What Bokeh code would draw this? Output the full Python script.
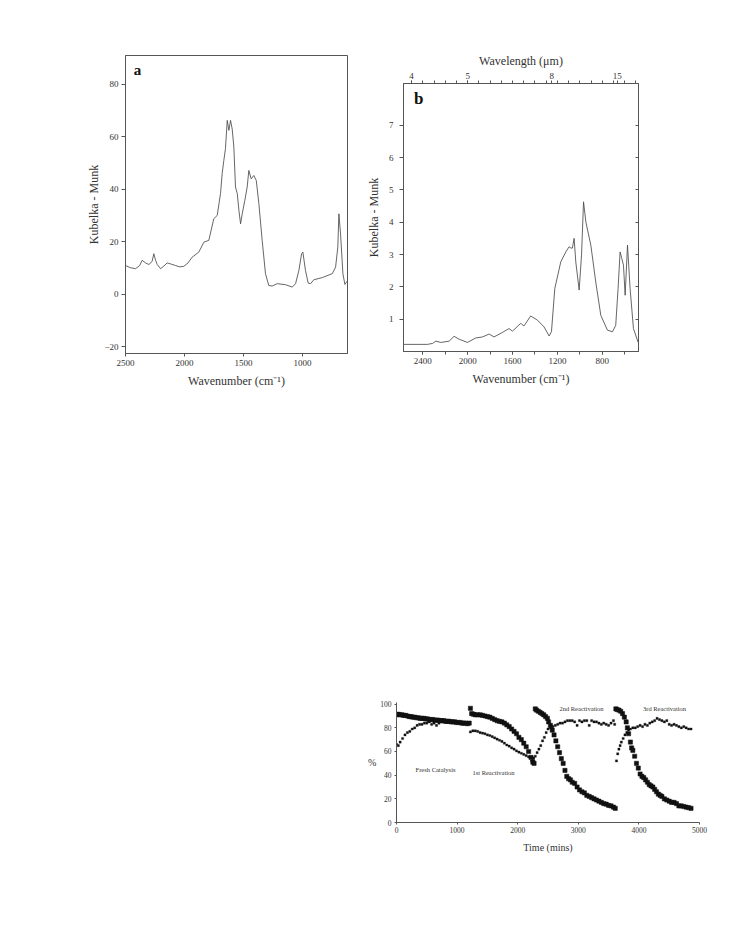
from bokeh.plotting import figure
from bokeh.models import LinearAxis, FixedTicker, CustomJSTickFormatter, Range1d, Label
from bokeh.layouts import row, column
from bokeh.embed import file_html
from bokeh.resources import INLINE

# ---------------- data ----------------
# Panel a: DRIFTS spectrum
a_wavenumber = [2500, 2460, 2415, 2380, 2359, 2330, 2302, 2275, 2260, 2245,
                2231, 2203, 2175, 2147, 2110, 2076, 2040, 2006, 1970, 1935,
                1879, 1836, 1794, 1752, 1723, 1695, 1681, 1667, 1653, 1638,
                1624, 1610, 1596, 1582, 1568, 1553, 1539, 1525, 1511, 1489,
                1469, 1455, 1435, 1413, 1392, 1370, 1342, 1314, 1286, 1257,
                1214, 1144, 1087, 1059, 1031, 1008, 997, 975, 952, 932,
                904, 833, 748, 720, 701, 692, 678, 658, 641, 621]
a_km = [11.0, 10.2, 9.8, 11.0, 13.0, 12.0, 11.4, 12.5, 15.5, 13.0,
        11.4, 9.8, 10.8, 12.0, 11.5, 11.0, 10.5, 10.7, 12.0, 14.2,
        16.1, 19.9, 20.6, 28.8, 30.1, 38.4, 46.0, 51.0, 55.5, 66.3,
        62.5, 66.3, 63.0, 56.1, 40.9, 38.4, 32.0, 26.9, 30.7, 35.8,
        40.9, 47.2, 44.0, 45.3, 43.4, 34.6, 20.6, 7.9, 3.4, 3.2,
        4.1, 3.7, 2.8, 4.1, 9.1, 15.5, 16.1, 9.1, 4.3, 4.1,
        5.6, 6.4, 7.9, 10.4, 18.0, 30.7, 23.1, 7.9, 3.8, 5.1]

# Panel b: DRIFTS spectrum
b_wavenumber = [2570, 2358, 2313, 2284, 2239, 2165, 2121, 2076, 2002, 1928,
                1868, 1809, 1765, 1690, 1631, 1601, 1527, 1498, 1438, 1378,
                1319, 1274, 1253, 1223, 1170, 1125, 1096, 1080, 1066, 1051,
                1036, 1006, 985, 967, 946, 902, 858, 813, 754, 709,
                680, 659, 641, 626, 611, 596, 575, 552, 522, 480]
b_km = [0.22, 0.22, 0.25, 0.32, 0.28, 0.32, 0.47, 0.38, 0.28, 0.42,
        0.45, 0.54, 0.45, 0.59, 0.71, 0.63, 0.87, 0.79, 1.10, 0.97,
        0.76, 0.48, 0.61, 1.95, 2.77, 3.08, 3.24, 3.20, 3.20, 3.50,
        2.77, 1.90, 2.98, 4.63, 4.00, 3.29, 2.15, 1.12, 0.66, 0.61,
        0.81, 1.95, 3.08, 2.88, 2.67, 1.74, 3.29, 1.95, 0.71, 0.28]
wavelength_ticks = [4, 5, 8, 15]

# Panel c: catalyst runs (big squares = decreasing series, small dots = rising series)
fresh_conv_t = [0, 30, 60, 90, 120, 150, 180, 210, 240, 270,
                300, 330, 360, 390, 420, 450, 480, 510, 540, 570,
                600, 630, 660, 690, 720, 750, 780, 810, 840, 870,
                900, 930, 960, 990, 1020, 1050, 1080, 1110, 1140, 1170,
                1200]
fresh_conv = [91, 91.5, 91, 91, 90.5, 90.5, 90, 89.5, 89.5, 89,
              89, 88.5, 88.5, 88, 88, 88, 87.5, 87.5, 87, 87,
              87, 86.5, 86.5, 86.5, 86, 86, 86, 85.5, 85.5, 85.5,
              85, 85, 85, 84.5, 84.5, 84.5, 84, 84, 84, 83.5,
              84]
fresh_sel_t = [0, 30, 60, 100, 140, 180, 220, 260, 300, 340,
               380, 420, 460, 500, 540, 580, 620, 660, 700]
fresh_sel = [66, 65, 68, 71, 74, 76, 77, 79, 80, 82,
             83, 83, 84, 84, 85, 83, 84, 82, 84]

r1_conv_t = [1220, 1240, 1270, 1300, 1340, 1380, 1420, 1460, 1500, 1540,
             1580, 1620, 1660, 1700, 1740, 1780, 1820, 1860, 1900, 1940,
             1980, 2020, 2060, 2100, 2140, 2180, 2220, 2250, 2270]
r1_conv = [96.5, 92, 91.5, 91, 91, 91, 90.5, 90, 89.5, 89,
           88, 87, 86, 85.5, 85, 84, 82.5, 81, 79, 77,
           75, 72, 70, 67, 64, 60, 55, 51, 50]
r1_sel_t = [1220, 1260, 1300, 1340, 1380, 1420, 1460, 1500, 1540, 1580,
            1620, 1660, 1700, 1740, 1780, 1820, 1860, 1900, 1940, 1980,
            2020, 2060, 2100, 2140, 2180, 2220, 2260]
r1_sel = [76.5, 77.5, 77.5, 77, 76, 75.5, 75, 74, 73.5, 72.5,
          71.5, 70.5, 69.5, 68.5, 67, 65.5, 64.5, 63, 62, 60.5,
          59.5, 58.5, 57.5, 56.5, 55.5, 55, 54.5]

r2_conv_t = [2290, 2310, 2340, 2370, 2400, 2430, 2460, 2490, 2510, 2540,
             2570, 2600, 2630, 2660, 2690, 2720, 2750, 2780, 2810, 2840,
             2870, 2900, 2940, 2980, 3020, 3060, 3100, 3140, 3180, 3220,
             3260, 3300, 3340, 3380, 3420, 3460, 3500, 3540, 3580, 3610]
r2_conv = [96, 95, 94, 93, 92, 91, 89.5, 88, 85, 82,
           78, 74, 69, 64, 59, 54, 50, 44, 39, 37,
           36, 34, 33, 30, 27.5, 26, 25, 23, 22, 21,
           20, 19, 18, 17, 16, 15.5, 14.5, 14, 13, 12]
r2_sel_t = [2230, 2260, 2290, 2320, 2350, 2380, 2410, 2440, 2470, 2500,
            2540, 2580, 2620, 2660, 2700, 2740, 2780, 2820, 2860, 2900,
            2940, 2980, 3020, 3060, 3100, 3140, 3180, 3220, 3260, 3300,
            3340, 3380, 3420, 3460, 3500, 3540, 3580, 3600]
r2_sel = [52, 54, 56, 59, 62, 65, 69, 72, 76, 79,
          80, 81, 82, 83, 84, 84, 85, 86, 86, 86,
          85, 82, 86, 85, 86, 86, 82, 86, 85, 85,
          84, 83, 84, 83, 82, 84, 86, 83]

r3_conv_t = [3620, 3640, 3670, 3700, 3730, 3760, 3790, 3810, 3830, 3860,
             3880, 3900, 3930, 3960, 3990, 4020, 4050, 4080, 4110, 4140,
             4170, 4200, 4230, 4260, 4290, 4320, 4350, 4380, 4420, 4460,
             4500, 4540, 4580, 4620, 4660, 4700, 4740, 4780, 4820, 4860]
r3_conv = [96, 95.5, 95, 94, 92, 89, 85, 80, 75, 68,
           63, 61, 56, 50, 46, 41, 39, 38, 36, 34,
           32, 31, 30, 28, 26, 24, 23, 22, 20, 19,
           18, 17, 17, 16, 14, 14, 13.5, 13, 12.5, 12]
r3_sel_t = [3630, 3650, 3670, 3690, 3710, 3740, 3770, 3800, 3830, 3860,
            3900, 3940, 3980, 4020, 4060, 4100, 4140, 4180, 4220, 4260,
            4300, 4340, 4380, 4420, 4460, 4500, 4540, 4580, 4620, 4660,
            4700, 4740, 4780, 4820, 4860]
r3_sel = [52, 58, 62, 65, 68, 71, 74, 76, 78, 79,
          80, 80, 81, 82, 81, 83, 82, 84, 85, 86,
          88, 87, 86, 85, 86, 83, 82, 83, 82, 81,
          80, 81, 80, 79, 79]

# ---------------- styling ----------------
SERIF = "Liberation Serif"
AXC = "#555555"
TXT = "#333333"
LINE = "#4a4a4a"


def style_axis(ax, tick_size="9px", label_size="12px", tick_out=4, label_standoff=3, axis_standoff=5):
    ax.axis_line_color = AXC
    ax.axis_line_width = 1
    ax.major_tick_line_color = AXC
    ax.minor_tick_line_color = AXC
    ax.major_tick_in = 0
    ax.major_tick_out = tick_out
    ax.minor_tick_in = 0
    ax.minor_tick_out = 0
    ax.major_label_text_font = SERIF
    ax.major_label_text_font_size = tick_size
    ax.major_label_text_color = TXT
    ax.major_label_standoff = label_standoff
    ax.axis_label_text_font = SERIF
    ax.axis_label_text_font_style = "normal"
    ax.axis_label_text_font_size = label_size
    ax.axis_label_text_color = TXT
    ax.axis_label_standoff = axis_standoff


# ---------------- panel a ----------------
pa = figure(frame_width=222, frame_height=298,
            x_range=Range1d(2500, 619), y_range=Range1d(-22.5, 91),
            output_backend="svg", toolbar_location=None,
            min_border_left=125, min_border_right=13,
            min_border_top=55, min_border_bottom=50)
pa.grid.visible = False
pa.outline_line_color = AXC
pa.xaxis.ticker = FixedTicker(ticks=[2500, 2000, 1500, 1000])
pa.yaxis.ticker = FixedTicker(ticks=[-20, 0, 20, 40, 60, 80])
pa.xaxis.axis_label = "Wavenumber (cm\u207b\u00b9)"
pa.yaxis.axis_label = "Kubelka - Munk"
style_axis(pa.xaxis[0], tick_out=3, label_standoff=3, axis_standoff=5)
style_axis(pa.yaxis[0], tick_out=4, label_standoff=3, axis_standoff=0)
pa.line(a_wavenumber, a_km, line_color=LINE, line_width=0.85)
pa.add_layout(Label(x=2398, y=85.3, text="a", text_font=SERIF, text_font_style="bold",
                    text_font_size="15px", text_align="center", text_baseline="middle",
                    text_color="#111111"))

# ---------------- panel b ----------------
pb = figure(frame_width=235, frame_height=268,
            x_range=Range1d(2572, 477), y_range=Range1d(0, 8.29),
            output_backend="svg", toolbar_location=None,
            min_border_left=43, min_border_right=20,
            min_border_top=83, min_border_bottom=50)
pb.grid.visible = False
pb.outline_line_color = AXC
pb.xaxis.ticker = FixedTicker(ticks=[2400, 2000, 1600, 1200, 800],
                              minor_ticks=[2400, 2200, 2000, 1800, 1600, 1400, 1200, 1000, 800, 600])
pb.yaxis.ticker = FixedTicker(ticks=[1, 2, 3, 4, 5, 6, 7])
pb.xaxis.axis_label = "Wavenumber (cm\u207b\u00b9)"
pb.yaxis.axis_label = "Kubelka - Munk"
style_axis(pb.xaxis[0], tick_out=3, label_standoff=3, axis_standoff=5)
pb.xaxis[0].minor_tick_out = 3
style_axis(pb.yaxis[0], tick_out=4, label_standoff=6, axis_standoff=5)

top = LinearAxis(ticker=FixedTicker(ticks=[10000.0 / w for w in wavelength_ticks],
                                    minor_ticks=list(range(500, 2600, 100))),
                 formatter=CustomJSTickFormatter(code="return (10000/tick).toFixed(0);"),
                 axis_label="Wavelength (\u03bcm)")
style_axis(top, tick_out=3, label_standoff=2, axis_standoff=2)
top.minor_tick_out = 3
pb.add_layout(top, "above")

right = LinearAxis(ticker=FixedTicker(ticks=[1, 2, 3, 4, 5, 6, 7]),
                   formatter=CustomJSTickFormatter(code="return '';"))
style_axis(right)
right.major_tick_in = 3
right.major_tick_out = 0
right.major_label_standoff = 0
pb.add_layout(right, "right")

pb.line(b_wavenumber, b_km, line_color=LINE, line_width=0.85)
pb.add_layout(Label(x=2436, y=7.83, text="b", text_font=SERIF, text_font_style="bold",
                    text_font_size="17px", text_align="center", text_baseline="middle",
                    text_color="#111111"))

# ---------------- panel c ----------------
pc = figure(frame_width=303, frame_height=120,
            x_range=Range1d(0, 5000), y_range=Range1d(0, 101.4),
            output_backend="svg", toolbar_location=None,
            min_border_left=36, min_border_right=12,
            min_border_top=301, min_border_bottom=40)
pc.grid.visible = False
pc.outline_line_color = None
pc.xaxis.ticker = FixedTicker(ticks=[0, 1000, 2000, 3000, 4000, 5000])
pc.yaxis.ticker = FixedTicker(ticks=[0, 20, 40, 60, 80, 100])
pc.xaxis.axis_label = "Time (mins)"
pc.yaxis.axis_label = "%"
style_axis(pc.xaxis[0], tick_size="7.5px", label_size="10px", tick_out=2, label_standoff=2, axis_standoff=6)
style_axis(pc.yaxis[0], tick_size="7.5px", label_size="10px", tick_out=2, label_standoff=3, axis_standoff=1)
try:
    pc.yaxis[0].axis_label_orientation = "horizontal"
except Exception:
    pass

DOT = "#111111"
for tt, vv in [(fresh_conv_t, fresh_conv), (r1_conv_t, r1_conv), (r2_conv_t, r2_conv), (r3_conv_t, r3_conv)]:
    pc.scatter(tt, vv, marker="square", size=4.2, fill_color=DOT, line_color=DOT, line_width=0.5)
for tt, vv in [(fresh_sel_t, fresh_sel), (r1_sel_t, r1_sel), (r2_sel_t, r2_sel), (r3_sel_t, r3_sel)]:
    pc.scatter(tt, vv, marker="square", size=2.2, fill_color=DOT, line_color=DOT, line_width=0.3)

for txt, x, y in [("Fresh Catalysis", 644, 45), ("1st Reactivation", 1600, 42),
                  ("2nd Reactivation", 3053, 96.5), ("3rd Reactivation", 4423, 96.5)]:
    pc.add_layout(Label(x=x, y=y, text=txt, text_font=SERIF, text_font_size="6.5px",
                        text_align="center", text_baseline="middle", text_color=TXT))

# pc wrapped in its own row so its frame is not aligned with panel b's frame
layout = row(pa, column(pb, row(pc)))
open("out.html", "w").write(file_html(layout, INLINE))
